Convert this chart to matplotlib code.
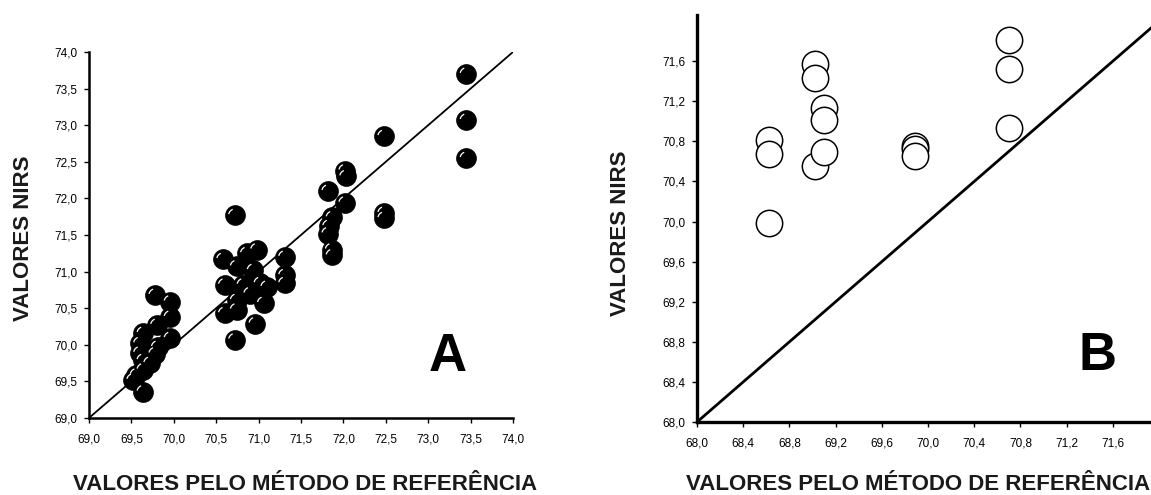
import numpy as np
import matplotlib
matplotlib.use("Agg")
import matplotlib.pyplot as plt
from matplotlib.path import Path

# Panel A: calibration set (filled markers)
a_ref = [73.45, 73.45, 73.45,
         72.48, 72.48, 72.48,
         72.02, 72.03, 72.02,
         71.82, 71.87, 71.83, 71.82, 71.86, 71.87,
         70.72, 70.58, 70.86, 70.98, 71.31, 71.31, 71.31,
         70.60, 70.74, 70.94, 70.82, 71.02, 71.10, 71.06,
         70.74, 70.60, 70.74, 70.90, 70.96, 70.72,
         69.78, 69.96, 69.96, 69.80, 69.64, 69.60, 69.96,
         69.78, 69.64, 69.72, 69.56, 69.64, 69.52, 69.64,
         69.60, 69.81]
a_nirs = [73.70, 73.07, 72.55,
          72.85, 71.80, 71.73,
          72.38, 72.30, 71.94,
          72.10, 71.74, 71.62, 71.52, 71.30, 71.22,
          71.77, 71.17, 71.25, 71.30, 71.20, 70.95, 70.84,
          70.82, 71.07, 71.02, 70.82, 70.84, 70.79, 70.57,
          70.61, 70.43, 70.48, 70.70, 70.29, 70.07,
          70.68, 70.59, 70.38, 70.27, 70.16, 70.02, 70.09,
          69.88, 69.79, 69.75, 69.59, 69.66, 69.52, 69.36,
          69.89, 69.97]

# Panel B: validation set (open markers)
b_ref = [68.62, 68.62, 68.62,
         69.02, 69.02, 69.02,
         69.10, 69.10, 69.10,
         69.89, 69.89, 69.89,
         70.70, 70.70, 70.70]
b_nirs = [70.81, 70.67, 69.99,
          71.57, 71.43, 70.55,
          71.13, 71.01, 70.69,
          70.75, 70.72, 70.65,
          71.81, 71.52, 70.93]

a_ticks = [69.0, 69.5, 70.0, 70.5, 71.0, 71.5, 72.0, 72.5, 73.0, 73.5, 74.0]
b_ticks = [68.0, 68.4, 68.8, 69.2, 69.6, 70.0, 70.4, 70.8, 71.2, 71.6]

xlabel = "VALORES PELO MÉTODO DE REFERÊNCIA"
ylabel = "VALORES NIRS"
txt_col = "#1a1a1a"


def fmt(v):
    return f"{v:.1f}".replace(".", ",")


def style_axes(ax, ticks, spine_w):
    for s in ("top", "right"):
        ax.spines[s].set_visible(False)
    for s in ("left", "bottom"):
        ax.spines[s].set_linewidth(spine_w)
    ax.set_xticks(ticks)
    ax.set_yticks(ticks)
    ax.set_xticklabels([fmt(t) for t in ticks])
    ax.set_yticklabels([fmt(t) for t in ticks])
    ax.tick_params(direction="out", length=3.5, width=1, labelsize=8.5,
                   colors="black")
    ax.tick_params(axis="x", pad=8)
    ax.tick_params(axis="y", pad=5)


# small white arc used as the highlight on the solid spheres
arc = Path.arc(110, 170)
hl_path = Path(np.vstack([[[1.0, 0.0]], arc.vertices * 0.62]),
               [Path.MOVETO] + [Path.MOVETO] + list(arc.codes[1:]))

plt.rcParams["font.family"] = ["Liberation Sans", "DejaVu Sans"]
fig = plt.figure(figsize=(11.51, 4.95), dpi=100)

# ---- panel A
axA = fig.add_axes([0.0773, 0.1556, 0.3684, 0.7394])
axA.plot([69, 74], [69, 74], color="black", lw=1.3, zorder=1)
axA.scatter(a_ref, a_nirs, s=205, c="black", edgecolors="black",
            linewidths=0.5, zorder=2)
axA.scatter(a_ref, a_nirs, s=205, marker=hl_path, facecolors="none",
            edgecolors="white", linewidths=0.9, zorder=3)
axA.set_xlim(69, 74)
axA.set_ylim(69, 74)
style_axes(axA, a_ticks, 1.8)
axA.text(0.845, 0.167, "A", transform=axA.transAxes, fontsize=38,
         fontweight="bold", ha="center", va="center", color="black")

# ---- panel B
axB = fig.add_axes([0.6056, 0.1475, 0.3944, 0.8222])
axB.plot([68, 72.5], [68, 72.5], color="black", lw=2.0, zorder=1)
axB.scatter(b_ref, b_nirs, s=360, facecolors="white", edgecolors="black",
            linewidths=1.1, zorder=2)
axB.set_xlim(68, 71.93)
axB.set_ylim(68, 72.06)
style_axes(axB, b_ticks, 2.4)
axB.text(0.883, 0.162, "B", transform=axB.transAxes, fontsize=38,
         fontweight="bold", ha="center", va="center", color="black")

# axis titles
fig.text(0.02, 0.519, ylabel, rotation=90, ha="center", va="center",
         fontsize=16, fontweight="bold", color=txt_col)
fig.text(0.5387, 0.529, ylabel, rotation=90, ha="center", va="center",
         fontsize=16, fontweight="bold", color=txt_col)
fig.text(0.265, 0.022, xlabel, ha="center", va="center",
         fontsize=16, fontweight="bold", color=txt_col)
fig.text(0.7976, 0.022, xlabel, ha="center", va="center",
         fontsize=16, fontweight="bold", color=txt_col)

fig.savefig("out.png", dpi=100)
